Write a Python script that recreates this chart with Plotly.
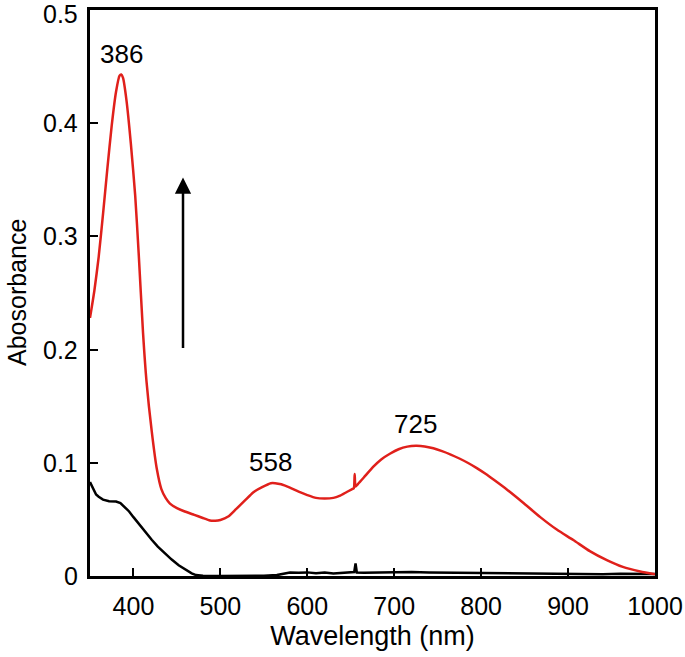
import plotly.graph_objects as go

# Red spectrum (after)
red_wl = [350, 355, 360, 365, 370, 375, 380, 384, 386, 388, 392, 397, 402, 406, 411, 415, 421, 427, 432, 437,
          442, 450, 459, 470, 479, 488, 494, 500, 509, 518, 528, 538, 548, 558, 563, 570, 580, 590, 600, 610,
          620, 630, 637, 645, 652, 653.5, 654.5, 655.5, 658, 665, 676, 685, 695, 705, 715, 725, 735, 745, 755,
          765, 775, 785, 795, 805, 815, 829.5, 848, 868, 887, 906, 925, 944.6, 963, 983, 1000]
red_abs = [0.228, 0.252, 0.282, 0.320, 0.360, 0.398, 0.428, 0.442, 0.443, 0.440, 0.420, 0.382, 0.336, 0.285,
           0.215, 0.172, 0.128, 0.094, 0.077, 0.069, 0.064, 0.060, 0.057, 0.054, 0.0515, 0.049, 0.0488, 0.0495,
           0.0525, 0.059, 0.0665, 0.074, 0.0785, 0.0820, 0.0820, 0.081, 0.078, 0.0745, 0.0715, 0.069, 0.0685,
           0.069, 0.0707, 0.074, 0.077, 0.0775, 0.090, 0.079, 0.081, 0.087, 0.0966, 0.103, 0.108, 0.112, 0.1143,
           0.115, 0.1145, 0.1128, 0.1103, 0.1073, 0.1038, 0.0998, 0.0953, 0.0903, 0.0848, 0.0765, 0.065, 0.052,
           0.041, 0.0318, 0.022, 0.014, 0.008, 0.004, 0.0015]

# Black spectrum (before)
blk_wl = [350, 353, 357, 360, 365, 372, 380, 385, 390, 395, 400, 405, 410, 415, 421, 428, 436, 444, 452, 460,
          467, 472, 480, 500, 520, 550, 565, 572, 580, 590, 600, 610, 620, 630, 640, 650, 654, 655.5, 657, 665,
          680, 700, 720, 740, 760, 780, 800, 820, 840, 860, 880, 900, 920, 940, 960, 980, 1000]
blk_abs = [0.083, 0.078, 0.072, 0.070, 0.0675, 0.066, 0.0658, 0.0645, 0.061, 0.057, 0.052, 0.047, 0.042, 0.037,
           0.032, 0.026, 0.020, 0.0145, 0.0095, 0.0055, 0.0024, 0.0008, 0.0003, 0.0, 0.0, 0.0003, 0.0008, 0.002,
           0.003, 0.0028, 0.0032, 0.0025, 0.003, 0.0022, 0.0028, 0.003, 0.0035, 0.011, 0.003, 0.0028, 0.003,
           0.0035, 0.0035, 0.0032, 0.0030, 0.0028, 0.0025, 0.0022, 0.002, 0.0018, 0.0017, 0.0016, 0.0018, 0.0016,
           0.0020, 0.0019, 0.0017]

peak_labels = ["386", "558", "725"]
peak_x = [386, 558, 725]
peak_y = [0.461, 0.101, 0.134]

x_ticks = [400, 500, 600, 700, 800, 900, 1000]
y_ticks = [0, 0.1, 0.2, 0.3, 0.4, 0.5]
y_tick_text = ["0", "0.1", "0.2", "0.3", "0.4", "0.5"]

arrow_x = 457
arrow_y0 = 0.2
arrow_y1 = 0.352

FONT = "Liberation Sans, Arial, Helvetica, sans-serif"

fig = go.Figure()
fig.add_trace(go.Scatter(x=blk_wl, y=blk_abs, mode="lines",
                         line=dict(color="black", width=2.5), showlegend=False))
fig.add_trace(go.Scatter(x=red_wl, y=red_abs, mode="lines",
                         line=dict(color="#e0201b", width=2.5, shape="spline", smoothing=0.6),
                         showlegend=False))

for t, x, y in zip(peak_labels, peak_x, peak_y):
    fig.add_annotation(x=x, y=y, text=t, showarrow=False,
                       font=dict(family=FONT, size=26, color="black"))

# y tick labels on the y axis scale; the top one is nudged down so it stays inside the page
top_tick = max(y_ticks)
for v, t in zip(y_ticks, y_tick_text):
    fig.add_annotation(xref="paper", x=0, yref="y", y=v, text=t, showarrow=False,
                       xanchor="right", yanchor="middle", xshift=-10,
                       yshift=(-4 if v == top_tick else 0),
                       font=dict(family=FONT, size=25, color="black"))

# y axis title
fig.add_annotation(xref="paper", x=0, yref="paper", y=0.5, text="Abosorbance", showarrow=False,
                   textangle=-90, xanchor="center", yanchor="middle", xshift=-73,
                   font=dict(family=FONT, size=25, color="black"))

fig.add_annotation(x=arrow_x, y=arrow_y1, ax=arrow_x, ay=arrow_y0,
                   xref="x", yref="y", axref="x", ayref="y",
                   showarrow=True, arrowhead=2, arrowsize=1.3, arrowwidth=2.5,
                   arrowcolor="black", text="")

fig.update_layout(
    width=685, height=657,
    margin=dict(l=90, r=30, t=10, b=81),
    plot_bgcolor="white", paper_bgcolor="white",
    font=dict(family=FONT, color="black"),
    showlegend=False,
)
fig.update_xaxes(range=[350, 1000], tickvals=x_ticks, ticks="inside", ticklen=8, tickwidth=2,
                 tickcolor="black", showline=True, linecolor="black", linewidth=2.5, mirror=True,
                 showgrid=False, zeroline=False, tickfont=dict(size=25), ticklabelstandoff=6,
                 automargin=False, ticklabeloverflow="allow",
                 title=dict(text="Wavelength (nm)", font=dict(size=27), standoff=8))
fig.update_yaxes(range=[0, 0.5], tickvals=y_ticks, ticks="inside", ticklen=8,
                 tickwidth=2, tickcolor="black", showline=True, linecolor="black", linewidth=2.5,
                 mirror=True, showgrid=False, zeroline=False, showticklabels=False,
                 automargin=False)

fig.write_html("out.html", config={"displayModeBar": False},
               post_script="document.body.style.margin='0';document.body.style.padding='0';")
